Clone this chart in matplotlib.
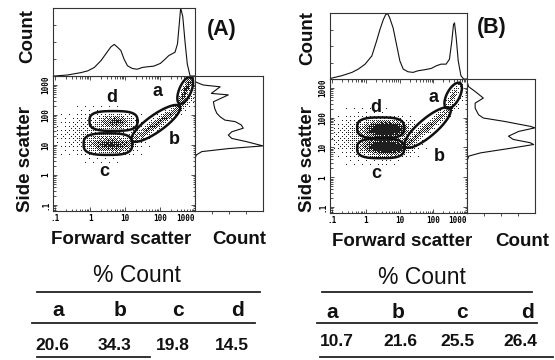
import numpy as np
import matplotlib
matplotlib.use("Agg")
import matplotlib.pyplot as plt
from matplotlib.lines import Line2D

plt.rcParams['font.family'] = ['Liberation Sans', 'DejaVu Sans']

W, H, DPI = 555, 360, 100

# ------------------------------------------------------------------ data
gate_names = ["a", "b", "c", "d"]
pct_A = [20.6, 34.3, 19.8, 14.5]
pct_B = [10.7, 21.6, 25.5, 26.4]
table_title = "% Count"
panel_titles = ["(A)", "(B)"]

tick_decades = [-1, 0, 1, 2, 3]
tick_labels = [".1", "1", "10", "100", "1000"]

# forward-scatter histograms (log10 FSC, relative count)
fsc_A_x = [-1.01, -0.64, -0.26, -0.07, 0.12, 0.31, 0.45, 0.59, 0.69, 0.78,
           0.88, 0.97, 1.07, 1.21, 1.35, 1.49, 1.63, 1.82, 2.01, 2.15,
           2.25, 2.34, 2.43, 2.50, 2.56, 2.59, 2.65, 2.72, 2.78, 2.86]
fsc_A_y = [0.0, 0.015, 0.05, 0.075, 0.125, 0.225, 0.325, 0.425, 0.465, 0.425,
           0.375, 0.25, 0.15, 0.11, 0.10, 0.125, 0.135, 0.145, 0.185, 0.25,
           0.30, 0.325, 0.35, 0.475, 0.825, 1.0, 0.875, 0.475, 0.175, 0.0]
fsc_B_x = [-1.00, -0.71, -0.41, -0.22, -0.02, 0.18, 0.32, 0.42, 0.52, 0.59,
           0.65, 0.71, 0.81, 0.91, 1.01, 1.11, 1.25, 1.40, 1.55, 1.74,
           1.94, 2.09, 2.23, 2.38, 2.48, 2.55, 2.60, 2.63, 2.68, 2.74,
           2.82, 2.90]
fsc_B_y = [0.015, 0.05, 0.10, 0.15, 0.225, 0.35, 0.575, 0.75, 0.90, 0.975,
           0.99, 0.925, 0.775, 0.525, 0.275, 0.15, 0.11, 0.10, 0.125, 0.14,
           0.16, 0.20, 0.225, 0.225, 0.30, 0.575, 0.825, 0.85, 0.625, 0.275,
           0.05, 0.0]

# side-scatter histograms (log10 SSC, relative count)
ssc_A_y = [3.11, 3.00, 2.94, 2.72, 2.67, 2.44, 2.22, 2.06, 1.94, 1.83, 1.78,
           1.67, 1.56, 1.44, 1.33, 1.22, 1.11, 0.97, 0.88, 0.78, 0.67, 0.56]
ssc_A_c = [0.0, 0.12, 0.37, 0.24, 0.49, 0.27, 0.29, 0.32, 0.37, 0.44, 0.59,
           0.68, 0.71, 0.54, 0.49, 0.54, 0.76, 1.0, 0.49, 0.10, 0.02, 0.0]
ssc_B_y = [3.21, 3.04, 2.88, 2.66, 2.49, 2.32, 2.10, 1.99, 1.88, 1.71,
           1.66, 1.54, 1.38, 1.27, 1.16, 1.10, 0.97, 0.82, 0.71, 0.54]
ssc_B_c = [0.0, 0.025, 0.12, 0.24, 0.12, 0.12, 0.17, 0.24, 0.54, 0.93,
           1.0, 0.76, 0.61, 0.68, 0.93, 0.98, 0.63, 0.20, 0.025, 0.0]

# gates: (log FSC centre, log SSC centre, semi-major, semi-minor, angle, squareness)
gates_A = {"a": (2.72, 2.82, 0.48, 0.20, 67, 2.0),
           "b": (1.88, 1.72, 0.98, 0.28, 35.6, 2.0),
           "c": (0.51, 1.03, 0.81, 0.36, 0, 3.0),
           "d": (0.67, 1.80, 0.80, 0.33, 0, 3.0)}
gates_B = {"a": (2.59, 2.74, 0.48, 0.22, 61, 2.0),
           "b": (1.83, 1.67, 1.01, 0.30, 39.4, 2.0),
           "c": (0.44, 0.97, 0.81, 0.33, 0, 3.0),
           "d": (0.44, 1.66, 0.81, 0.35, 0, 3.0)}
gate_label_pos_A = {"a": (1.94, 2.77), "b": (2.42, 1.17), "c": (0.41, 0.10), "d": (0.61, 2.60)}
gate_label_pos_B = {"a": (2.02, 2.67), "b": (2.17, 0.69), "c": (0.31, 0.14), "d": (0.31, 2.34)}

# event clouds: (log FSC, log SSC, spread major, spread minor, angle, density)
clusters_A = [(0.20, 1.38, 0.80, 0.40, 0, 0.20),
              (0.60, 1.00, 0.42, 0.15, 0, 0.80),
              (0.75, 1.78, 0.32, 0.13, 0, 0.70),
              (1.95, 1.75, 0.80, 0.09, 35, 0.70),
              (2.75, 2.85, 0.35, 0.07, 67, 0.95)]
clusters_B = [(0.05, 1.35, 0.80, 0.40, 0, 0.24),
              (0.60, 1.02, 0.45, 0.15, 0, 1.5),
              (0.62, 1.62, 0.42, 0.16, 0, 1.6),
              (1.80, 1.65, 0.80, 0.09, 39, 0.60),
              (2.60, 2.75, 0.30, 0.07, 61, 0.50)]

XLIM = (-1.06, 3.0)
YLIM = (-1.2, 3.3)
KX = 35.0 / 30.0

fig = plt.figure(figsize=(W / DPI, H / DPI), dpi=DPI)
fig.patch.set_facecolor("white")


def rect(l, t, r, b):
    return [l / W, 1 - b / H, (r - l) / W, (b - t) / H]


def fx(x):
    return x / W


def fy(y):
    return 1 - y / H


def shape_xy(cx, cy, a, b, ang, n, m=300):
    t = np.linspace(0, 2 * np.pi, m)
    c, s = np.cos(t), np.sin(t)
    u = a * np.sign(c) * np.abs(c) ** (2 / n)
    v = b * np.sign(s) * np.abs(s) ** (2 / n)
    th = np.deg2rad(ang)
    xs = cx * KX + u * np.cos(th) - v * np.sin(th)
    ys = cy + u * np.sin(th) + v * np.cos(th)
    return xs / KX, ys


def density(X, Y, clusters):
    D = np.zeros_like(X)
    for cx, cy, sa, sb, ang, w in clusters:
        th = np.deg2rad(ang)
        dx = (X - cx) * KX
        dy = Y - cy
        u = dx * np.cos(th) + dy * np.sin(th)
        v = -dx * np.sin(th) + dy * np.cos(th)
        D += w * np.exp(-0.5 * ((u / sa) ** 2 + (v / sb) ** 2))
    return np.clip(D, 0, 1)


def bayer(n):
    m = np.array([[0]])
    while m.shape[0] < n:
        m = np.block([[4 * m, 4 * m + 2], [4 * m + 3, 4 * m + 1]])
    return (m + 0.5) / m.size


BAYER = bayer(8)

SPINE = "#333333"
MONO = dict(family="DejaVu Sans Mono", fontsize=5.5, fontweight="bold")


def style_box(ax):
    for sp in ax.spines.values():
        sp.set_color(SPINE)
        sp.set_linewidth(0.8)


def draw_panel(px, fsc_x, fsc_y, ssc_y, ssc_c, gates, glab, clusters):
    sc = fig.add_axes(rect(*px["scatter"]))
    top = fig.add_axes(rect(*px["top"]))
    rt = fig.add_axes(rect(*px["right"]))

    # scatter density (ordered-dither stipple)
    l, t, r, b = px["scatter"]
    nx, ny = int(r - l), int(b - t)
    xs = np.linspace(XLIM[0], XLIM[1], nx)
    ys = np.linspace(YLIM[0], YLIM[1], ny)
    X, Y = np.meshgrid(xs, ys)
    D = density(X, Y, clusters)
    k = BAYER.shape[0]
    thr = np.tile(BAYER, (ny // k + 1, nx // k + 1))[:ny, :nx]
    img = np.ones((ny, nx, 4))
    img[..., 3] = 0
    dots = D > thr
    img[dots] = (0.12, 0.12, 0.12, 1.0)
    sc.imshow(img, extent=(XLIM[0], XLIM[1], YLIM[0], YLIM[1]), origin="lower",
              interpolation="nearest", aspect="auto", zorder=1)
    for name in gate_names:
        gx, gy = shape_xy(*gates[name])
        sc.plot(gx, gy, color="#111111", lw=1.8, zorder=3)
        lx, ly = glab[name]
        sc.text(lx, ly, name, fontsize=13, fontweight="bold", ha="center",
                va="center", color="#111111", zorder=4)
    sc.set_xlim(*XLIM)
    sc.set_ylim(*YLIM)
    minor = [d + np.log10(k) for d in range(-2, 4) for k in range(2, 10)]
    sc.set_xticks(tick_decades)
    sc.set_yticks(tick_decades)
    sc.set_xticks([m for m in minor if XLIM[0] < m < XLIM[1]], minor=True)
    sc.set_yticks([m for m in minor if YLIM[0] < m < YLIM[1]], minor=True)
    sc.set_xticklabels(tick_labels, **MONO)
    sc.set_yticklabels(tick_labels, rotation=90, va="center", **MONO)
    sc.get_xticklabels()[-1].set_ha("right")
    sc.tick_params(which="both", direction="in", top=True, right=True,
                   color=SPINE, width=0.6)
    sc.tick_params(which="major", length=3, pad=2)
    sc.tick_params(which="minor", length=1.8)
    style_box(sc)

    # top histogram
    top.plot([XLIM[0]] + list(fsc_x) + [XLIM[1]], [0] + list(fsc_y) + [0],
             color="#111111", lw=0.8)
    top.set_xlim(*XLIM)
    top.set_ylim(0, 1.0)
    top.set_xticks([])
    top.set_yticks([0.25, 0.5, 0.75])
    top.set_yticklabels([])
    top.tick_params(axis="y", direction="in", length=2.5, color=SPINE, width=0.6)
    style_box(top)

    # right histogram
    rt.plot([0] + list(ssc_c) + [0], [YLIM[1]] + list(ssc_y) + [YLIM[0]],
            color="#111111", lw=0.8)
    rt.set_ylim(*YLIM)
    rt.set_xlim(0, 1.0)
    rt.set_yticks([])
    rt.set_xticks([0.25, 0.5, 0.75])
    rt.set_xticklabels([])
    rt.tick_params(axis="x", direction="out", length=2.5, color=SPINE, width=0.6)
    style_box(rt)


panel_A = {"scatter": (53, 76, 195, 211), "top": (53, 8, 195, 76), "right": (195, 76, 263, 211)}
panel_B = {"scatter": (330, 79, 467, 213), "top": (330, 13, 467, 79), "right": (467, 79, 535, 213)}

draw_panel(panel_A, fsc_A_x, fsc_A_y, ssc_A_y, ssc_A_c, gates_A, gate_label_pos_A, clusters_A)
draw_panel(panel_B, fsc_B_x, fsc_B_y, ssc_B_y, ssc_B_c, gates_B, gate_label_pos_B, clusters_B)

LAB = dict(fontsize=13.5, fontweight="bold", color="#111111", ha="center", va="center")
for (cx, cy), (sx, sy), (fxp, fyp), (rx, ry), (tx, ty), ttl in [
        ((28, 36), (26, 159), (121, 239), (239, 239), (222, 29), panel_titles[0]),
        ((308, 38), (308, 159), (402, 241), (522, 241), (492, 27), panel_titles[1])]:
    fig.text(fx(cx), fy(cy), "Count", rotation=90, **LAB)
    fig.text(fx(sx), fy(sy), "Side scatter", rotation=90, **LAB)
    fig.text(fx(fxp), fy(fyp), "Forward scatter", **LAB)
    fig.text(fx(rx), fy(ry), "Count", **LAB)
    fig.text(fx(tx), fy(ty), ttl, fontsize=15.5, fontweight="bold", color="#111111",
             ha="center", va="center")


def hline(y, x0, x1):
    fig.add_artist(Line2D([fx(x0), fx(x1)], [fy(y), fy(y)], transform=fig.transFigure,
                          color="#222222", lw=1.3))


def table(title_xy, lines, head_y, head_x, val_y, val_x, values):
    fig.text(fx(title_xy[0]), fy(title_xy[1]), table_title, fontsize=16.5,
             ha="center", va="center", color="#111111")
    for y, x0, x1 in lines:
        hline(y, x0, x1)
    for name, x in zip(gate_names, head_x):
        fig.text(fx(x), fy(head_y), name, fontsize=15, fontweight="bold",
                 ha="center", va="center", color="#111111")
    for v, x in zip(values, val_x):
        fig.text(fx(x), fy(val_y), f"{v:.1f}", fontsize=12.5, fontweight="bold",
                 ha="center", va="center", color="#111111")


table((137, 275), [(292, 37, 260), (323, 32, 255), (357, 37, 150)],
      310, [58, 120, 178, 237], 345, [52, 115, 173, 232], pct_A)
table((422, 277), [(292, 322, 532), (323, 317, 537), (357, 320, 553)],
      312, [332, 398, 462, 528], 342, [337, 400, 457, 520], pct_B)

fig.savefig("out.png", dpi=DPI, facecolor="white")
